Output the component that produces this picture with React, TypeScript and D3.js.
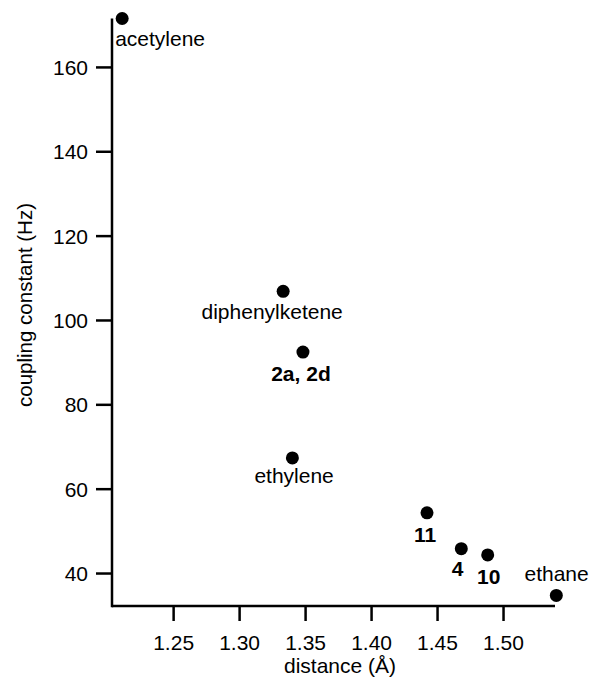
import React from "react";
import * as d3 from "d3";

const names = ["acetylene", "diphenylketene", "2a, 2d", "ethylene", "11", "4", "10", "ethane"];
const distances = [1.211, 1.333, 1.348, 1.340, 1.442, 1.468, 1.488, 1.540];
const couplings = [171.6, 106.9, 92.5, 67.4, 54.4, 45.9, 44.4, 34.8];
const boldLabel = [false, false, true, false, true, true, true, false];
const xTicks = [1.25, 1.3, 1.35, 1.4, 1.45, 1.5];
const yTicks = [40, 60, 80, 100, 120, 140, 160];

// label offsets relative to the point (dx, dy, anchor)
const labelOffsets: [number, number, string][] = [
  [-7, 27, "start"],
  [-11, 27.6, "middle"],
  [-2, 28.4, "middle"],
  [1.7, 25, "middle"],
  [-2, 29.4, "middle"],
  [-3.7, 27.4, "middle"],
  [1, 29, "middle"],
  [0.3, -14.3, "middle"],
];

const W = 591;
const H = 679;
const FONT = "'Liberation Sans', Arial, Helvetica, sans-serif";
const FS = 21;

export default function App() {
  const x = d3.scaleLinear().domain([1.2033, 1.539]).range([112, 555]);
  const y = d3.scaleLinear().domain([32.3, 171.6]).range([606, 18.5]);
  const fmt = d3.format(".2f");

  return (
    <svg width={W} height={H} style={{ position: "absolute", left: 0, top: 0, background: "#fff" }}>
      <rect x={0} y={0} width={W} height={H} fill="#fff" />
      {/* axes */}
      <line x1={x.range()[0]} x2={x.range()[0]} y1={y.range()[1]} y2={y.range()[0] + 1.2} stroke="#000" strokeWidth={2.5} />
      <line x1={x.range()[0]} x2={x.range()[1]} y1={y.range()[0]} y2={y.range()[0]} stroke="#000" strokeWidth={2.5} />
      {yTicks.map((t) => (
        <g key={"y" + t}>
          <line x1={x.range()[0] - 16} x2={x.range()[0]} y1={y(t)} y2={y(t)} stroke="#000" strokeWidth={2.5} />
          <text x={x.range()[0] - 24} y={y(t)} dy="0.36em" textAnchor="end" fontFamily={FONT} fontSize={FS}>
            {t}
          </text>
        </g>
      ))}
      {xTicks.map((t) => (
        <g key={"x" + t}>
          <line x1={x(t)} x2={x(t)} y1={y.range()[0]} y2={y.range()[0] + 15} stroke="#000" strokeWidth={2.5} />
          <text x={x(t)} y={650} textAnchor="middle" fontFamily={FONT} fontSize={FS}>
            {fmt(t)}
          </text>
        </g>
      ))}
      <text x={340} y={673} textAnchor="middle" fontFamily={FONT} fontSize={FS}>
        distance (Å)
      </text>
      <text
        transform={`translate(32, 305) rotate(-90)`}
        textAnchor="middle"
        fontFamily={FONT}
        fontSize={20.5}
      >
        coupling constant (Hz)
      </text>
      {names.map((n, i) => {
        const px = x(distances[i]);
        const py = y(couplings[i]);
        const [dx, dy, anchor] = labelOffsets[i];
        return (
          <g key={n}>
            <circle cx={px} cy={py} r={6.5} fill="#000" />
            <text
              x={px + dx}
              y={py + dy}
              textAnchor={anchor as any}
              fontFamily={FONT}
              fontSize={FS}
              fontWeight={boldLabel[i] ? "bold" : "normal"}
            >
              {n}
            </text>
          </g>
        );
      })}
    </svg>
  );
}
